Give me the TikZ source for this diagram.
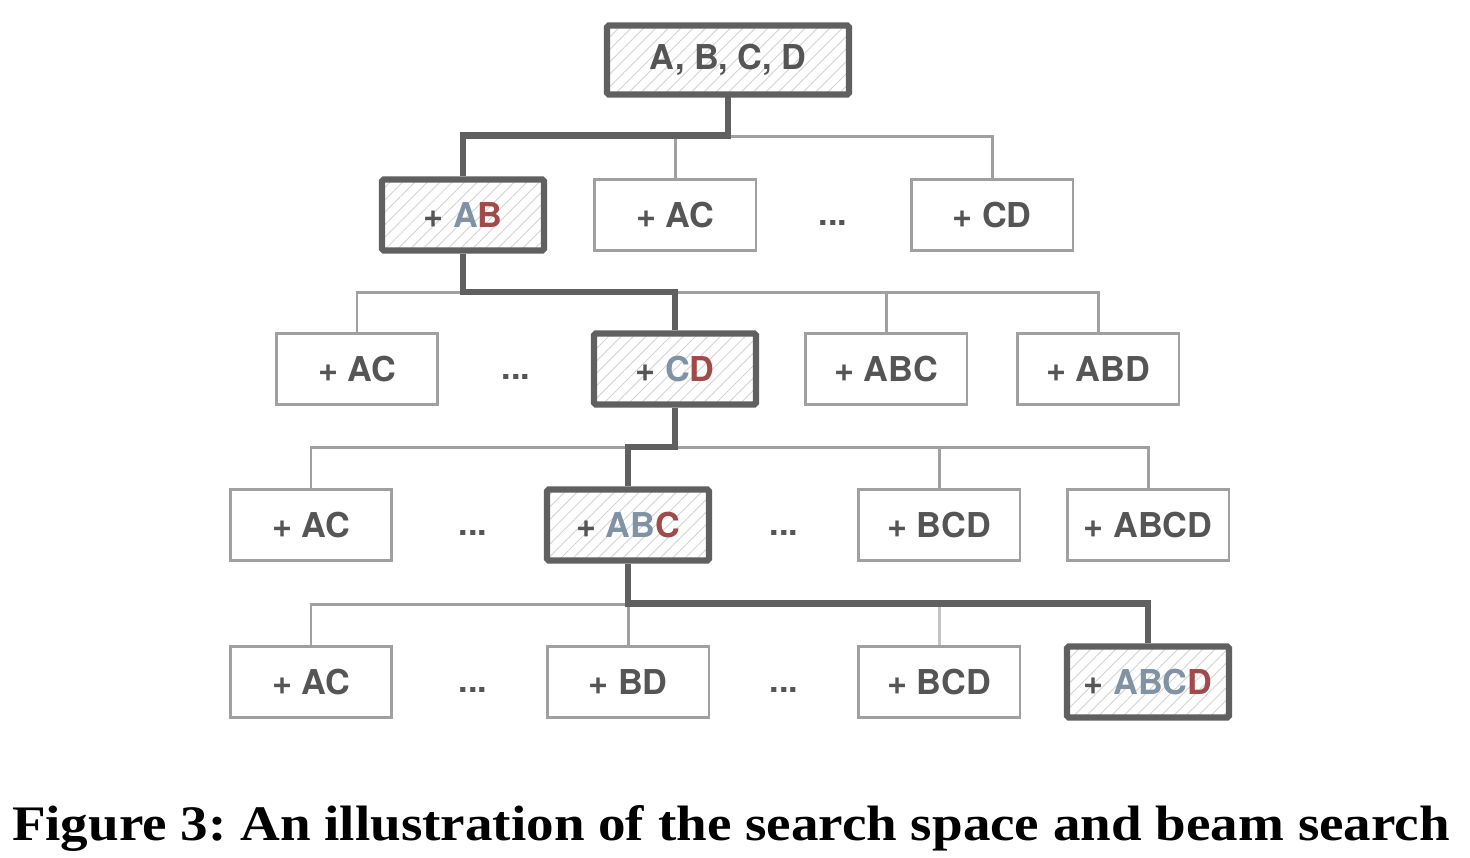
\documentclass[tikz,border=0pt]{standalone}
\usepackage{fontspec}
\usepackage{graphicx}
\usetikzlibrary{patterns.meta}
\usetikzlibrary{calc}
\newfontfamily\boxfont{TeX Gyre Heros}
\newfontfamily\capfont{Liberation Serif}
\definecolor{textgray}{HTML}{555555}
\definecolor{thingray}{HTML}{A0A0A0}
\definecolor{boldgray}{HTML}{606060}
\definecolor{palegray}{HTML}{C4C4C4}
\definecolor{colblue}{HTML}{8093A5}
\definecolor{colred}{HTML}{A04A4A}
\newcommand{\bl}[1]{\textcolor{colblue}{#1}}
\newcommand{\rd}[1]{\textcolor{colred}{#1}}
\newcommand{\link}[3]{\draw[#1] (#2.south) |- ($(#2.south)!0.5!(#3.north)$) -| (#3.north);}

\tikzset{
  cand/.style={draw=thingray, line width=1.7pt, minimum width=3.24cm, minimum height=1.42cm,
    font=\boxfont\bfseries\fontsize{19.5}{22}\selectfont, text=textgray},
  beam/.style={cand, draw=boldgray, line width=3.6pt, rounded corners=1pt,
    pattern={Lines[angle=45,distance=5pt,line width=0.5pt]}, pattern color=gray!35},
  gap/.style={font=\boxfont\bfseries\fontsize{19.5}{22}\selectfont, text=textgray},
  thin/.style={draw=thingray, line width=1.7pt},
  pale/.style={draw=palegray, line width=1.7pt},
  thick/.style={draw=boldgray, line width=3.6pt},
}

\begin{document}
\begin{tikzpicture}[x=0.02cm,y=-0.02cm]
  \useasboundingbox (0,0) rectangle (1470,858);
  % root
  \node[beam, minimum width=4.84cm, minimum height=1.38cm] (root) at (728,60) {A, B, C, D};
  % first step
  \node[beam] (r1ab) at (463,215) {+ \bl{A}\rd{B}};
  \node[cand] (r1ac) at (675,215) {+ AC};
  \node[gap] (r1dots) at (833,223) {...};
  \node[cand] (r1cd) at (992,215) {+ CD};
  % second step
  \node[cand] (r2ac) at (357,369) {+ AC};
  \node[gap] (r2dots) at (516,377) {...};
  \node[beam] (r2cd) at (675,369) {+ \bl{C}\rd{D}};
  \node[cand] (r2abc) at (886,369) {+ ABC};
  \node[cand] (r2abd) at (1098,369) {+ ABD};
  % third step
  \node[cand] (r3ac) at (311,525) {+ AC};
  \node[gap] (r3dotsa) at (473,533) {...};
  \node[beam] (r3abc) at (628,525) {+ \bl{AB}\rd{C}};
  \node[gap] (r3dotsb) at (784,533) {...};
  \node[cand] (r3bcd) at (939,525) {+ BCD};
  \node[cand] (r3abcd) at (1148,525) {+ ABCD};
  % fourth step
  \node[cand] (r4ac) at (311,682) {+ AC};
  \node[gap] (r4dotsa) at (473,690) {...};
  \node[cand] (r4bd) at (628,682) {+ BD};
  \node[gap] (r4dotsb) at (784,690) {...};
  \node[cand] (r4bcd) at (939,682) {+ BCD};
  \node[beam] (r4abcd) at (1148,682) {+ \bl{ABC}\rd{D}};

  % candidates
  \foreach \p/\c in {root/r1ac, root/r1cd, r1ab/r2ac, r1ab/r2abc, r1ab/r2abd,
                     r2cd/r3ac, r2cd/r3bcd, r2cd/r3abcd, r3abc/r4ac, r3abc/r4bd}
    {\link{thin}{\p}{\c}}
  \link{pale}{r3abc}{r4bcd}
  % beam
  \foreach \p/\c in {root/r1ab, r1ab/r2cd, r2cd/r3abc, r3abc/r4abcd}
    {\link{thick}{\p}{\c}}

  \node[anchor=base, font=\capfont\bfseries, inner sep=0pt] (caption) at (731,840)
    {\frenchspacing\resizebox{28.76cm}{0.70cm}{Figure 3: An illustration of the search space and beam search}};
\end{tikzpicture}
\end{document}
